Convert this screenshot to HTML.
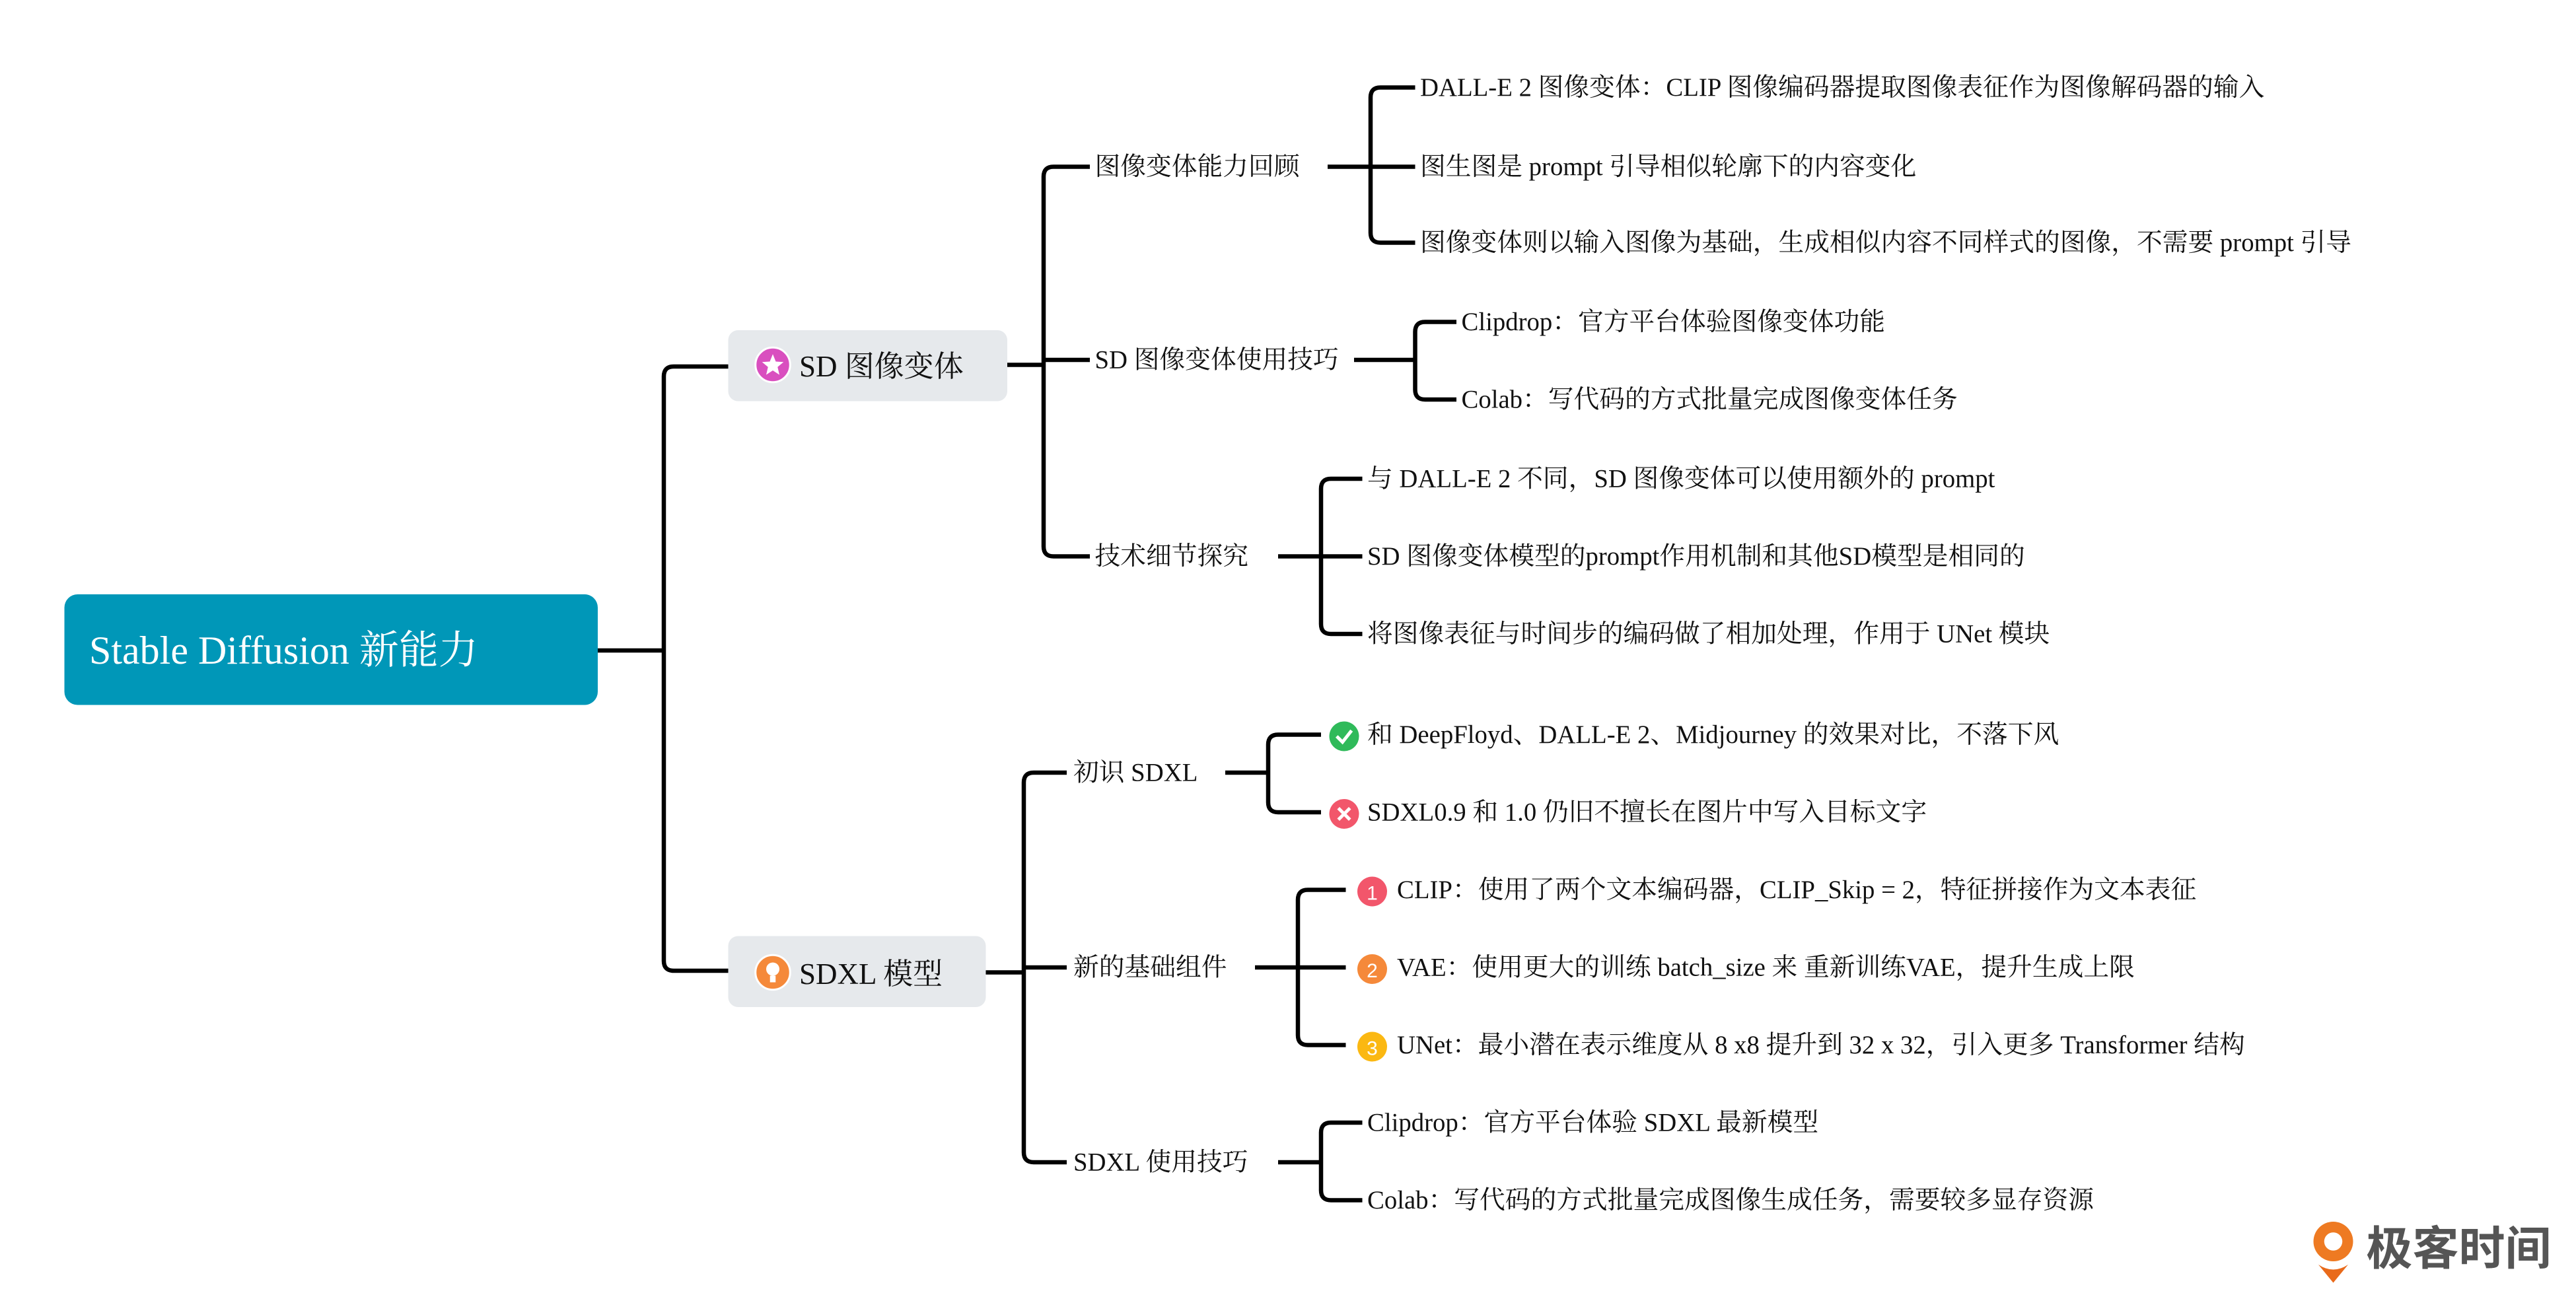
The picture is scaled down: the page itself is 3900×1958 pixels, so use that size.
<!DOCTYPE html>
<html><head><meta charset="utf-8"><style>
html,body{margin:0;padding:0;background:#fff;width:3900px;height:1958px;overflow:hidden}
svg{display:block}
text{font-family:"Liberation Serif","Noto Serif CJK SC",serif;fill:#111}
</style></head><body>
<svg width="3900" height="1958" viewBox="0 0 1560 783.2" xmlns="http://www.w3.org/2000/svg">
<g fill="none" stroke="#000" stroke-width="2.6" stroke-linecap="butt">
<!-- root -->
<path d="M362,394 H402"/>
<path d="M441,222 H408 Q402,222 402,228 V582 Q402,588 408,588 H441"/>
<!-- SD -->
<path d="M610,221 H632"/>
<path d="M660,101 H638 Q632,101 632,107 V331 Q632,337 638,337 H660"/>
<path d="M632,218 H660"/>
<!-- 回顾 -->
<path d="M804,101 H830"/>
<path d="M857,53 H836 Q830,53 830,59 V141 Q830,147 836,147 H857"/>
<path d="M830,101 H857"/>
<!-- 技巧 -->
<path d="M820,218 H857"/>
<path d="M882,195 H863 Q857,195 857,201 V236 Q857,242 863,242 H882"/>
<!-- 技术细节 -->
<path d="M774,337 H800"/>
<path d="M825,290 H806 Q800,290 800,296 V378 Q800,384 806,384 H825"/>
<path d="M800,337 H825"/>
<!-- SDXL -->
<path d="M597,589 H620"/>
<path d="M646,468 H626 Q620,468 620,474 V698 Q620,704 626,704 H646"/>
<path d="M620,586 H646"/>
<!-- 初识 -->
<path d="M742,468 H768"/>
<path d="M800,445 H774 Q768,445 768,451 V486 Q768,492 774,492 H800"/>
<!-- 新的基础组件 -->
<path d="M760,586 H786"/>
<path d="M815,539 H792 Q786,539 786,545 V627 Q786,633 792,633 H815"/>
<path d="M786,586 H815"/>
<!-- SDXL 使用技巧 -->
<path d="M774,704 H800"/>
<path d="M825,680 H806 Q800,680 800,686 V721 Q800,727 806,727 H825"/>
</g>

<!-- root node -->
<rect x="39" y="360" width="323" height="67" rx="8" fill="#0097b8"/>
<text x="54" y="402" font-size="24" style="fill:#fff">Stable Diffusion 新能力</text>

<!-- SD box -->
<rect x="441" y="200" width="169" height="43" rx="6" fill="#e6e9ec"/>
<circle cx="468" cy="221" r="10.5" fill="#d94fbf" stroke="#fff" stroke-width="1.2"/>
<polygon points="468,214.5 469.8,219 474.5,219.3 470.9,222.3 472,227 468,224.4 464,227 465.1,222.3 461.5,219.3 466.2,219" fill="#fff"/>
<text x="484" y="228" font-size="18">SD 图像变体</text>

<!-- SDXL box -->
<rect x="441" y="567" width="156" height="43" rx="6" fill="#e6e9ec"/>
<circle cx="468" cy="589" r="10.5" fill="#f5893a" stroke="#fff" stroke-width="1.2"/>
<circle cx="468" cy="587" r="4" fill="#fff"/>
<rect x="466.3" y="591" width="3.4" height="4" fill="#fff"/>
<text x="484" y="596" font-size="18">SDXL 模型</text>

<g font-size="15.5">
<text x="663" y="106">图像变体能力回顾</text>
<text x="663" y="223">SD 图像变体使用技巧</text>
<text x="663" y="342">技术细节探究</text>

<text x="860" y="58">DALL-E 2 图像变体：CLIP 图像编码器提取图像表征作为图像解码器的输入</text>
<text x="860" y="106">图生图是 prompt 引导相似轮廓下的内容变化</text>
<text x="860" y="152">图像变体则以输入图像为基础，生成相似内容不同样式的图像，不需要 prompt 引导</text>

<text x="885" y="200">Clipdrop：官方平台体验图像变体功能</text>
<text x="885" y="247">Colab：写代码的方式批量完成图像变体任务</text>

<text x="828" y="295">与 DALL-E 2 不同，SD 图像变体可以使用额外的 prompt</text>
<text x="828" y="342">SD 图像变体模型的prompt作用机制和其他SD模型是相同的</text>
<text x="828" y="389">将图像表征与时间步的编码做了相加处理，作用于 UNet 模块</text>

<text x="650" y="473">初识 SDXL</text>
<text x="650" y="591">新的基础组件</text>
<text x="650" y="709">SDXL 使用技巧</text>

<text x="828" y="450">和 DeepFloyd、DALL-E 2、Midjourney 的效果对比，不落下风</text>
<text x="828" y="497">SDXL0.9 和 1.0 仍旧不擅长在图片中写入目标文字</text>

<text x="846" y="544">CLIP：使用了两个文本编码器，CLIP_Skip = 2，特征拼接作为文本表征</text>
<text x="846" y="591">VAE：使用更大的训练 batch_size 来 重新训练VAE，提升生成上限</text>
<text x="846" y="638">UNet：最小潜在表示维度从 8 x8 提升到 32 x 32，引入更多 Transformer 结构</text>

<text x="828" y="685">Clipdrop：官方平台体验 SDXL 最新模型</text>
<text x="828" y="732">Colab：写代码的方式批量完成图像生成任务，需要较多显存资源</text>
</g>

<!-- markers -->
<circle cx="814" cy="446" r="9" fill="#2fba5a"/>
<path d="M809.5,446 L813,449.5 L818.5,442.5" fill="none" stroke="#fff" stroke-width="2"/>
<circle cx="814" cy="493" r="9" fill="#f2566b"/>
<path d="M810.5,489.5 L817.5,496.5 M817.5,489.5 L810.5,496.5" stroke="#fff" stroke-width="2"/>
<circle cx="831" cy="540" r="9" fill="#f2566b"/>
<text x="831" y="545" font-size="12" text-anchor="middle" style="fill:#fff;font-family:'Liberation Sans',sans-serif">1</text>
<circle cx="831" cy="587" r="9" fill="#f5893a"/>
<text x="831" y="592" font-size="12" text-anchor="middle" style="fill:#fff;font-family:'Liberation Sans',sans-serif">2</text>
<circle cx="831" cy="634" r="9" fill="#fbb812"/>
<text x="831" y="639" font-size="12" text-anchor="middle" style="fill:#fff;font-family:'Liberation Sans',sans-serif">3</text>

<!-- logo -->
<circle cx="1413" cy="752" r="12" fill="#ee7a22"/>
<circle cx="1413" cy="752" r="5.5" fill="#fff"/>
<path d="M1404,766 Q1413,772 1422,766 L1413,777 Z" fill="#e96a1a"/>
<text x="1433" y="766" font-size="28" style="fill:#555;font-family:'Noto Sans CJK SC',sans-serif;font-weight:bold">极客时间</text>
</svg>
</body></html>
